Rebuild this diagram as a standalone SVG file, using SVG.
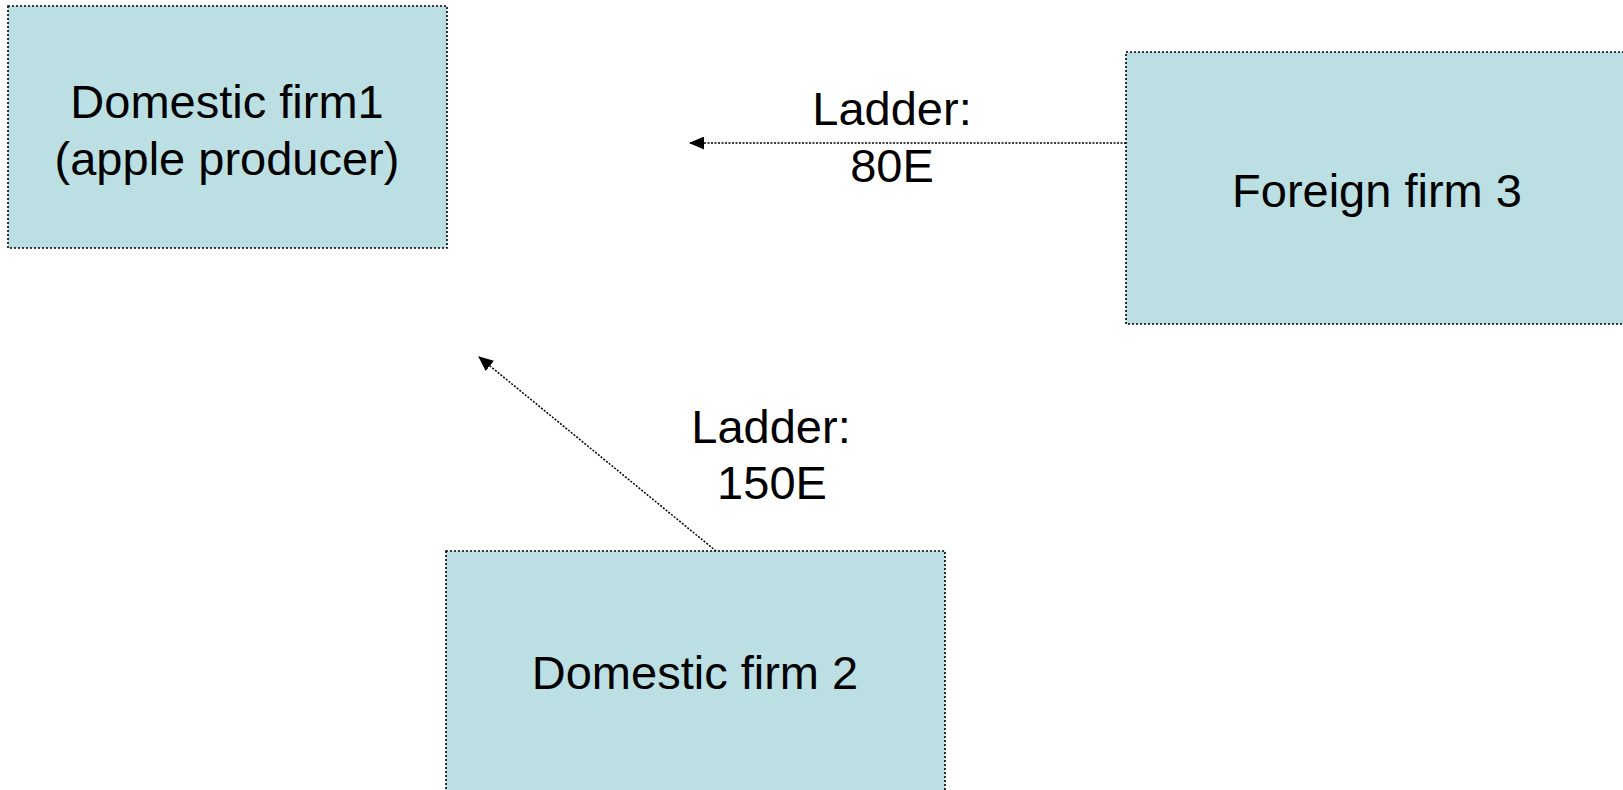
<svg xmlns="http://www.w3.org/2000/svg" width="1623" height="790" viewBox="0 0 1623 790">
  <style>
    .box { fill: #BBDFE3; stroke: #000; stroke-width: 1.6; stroke-dasharray: 2 2; }
    .lbl { font-family: "Liberation Sans", Arial, sans-serif; font-size: 47px; fill: #000; text-anchor: middle; }
    .link { fill: none; stroke: #000; stroke-width: 1.5; stroke-dasharray: 2 1.5; }
  </style>
  <defs>
    <marker id="head" viewBox="0 0 15 13" refX="14" refY="6.5" markerWidth="15" markerHeight="13" markerUnits="userSpaceOnUse" orient="auto">
      <path d="M0,0 L15,6.5 L0,13 Z" fill="#000"/>
    </marker>
  </defs>
  <rect width="1623" height="790" fill="#fff"/>

  <g id="domestic-firm-1">
    <rect class="box" x="8" y="6" width="439" height="242"/>
    <text class="lbl" x="227" y="118">Domestic firm1</text>
    <text class="lbl" x="227" y="175">(apple producer)</text>
  </g>

  <g id="foreign-firm-3">
    <rect class="box" x="1126" y="52" width="502" height="272"/>
    <text class="lbl" x="1377" y="207">Foreign firm 3</text>
  </g>

  <g id="domestic-firm-2">
    <rect class="box" x="446" y="551" width="499" height="250"/>
    <text class="lbl" x="695" y="689">Domestic firm 2</text>
  </g>

  <g id="connectors">
    <line class="link" x1="1126" y1="143" x2="690" y2="143" marker-end="url(#head)"/>
    <line class="link" x1="716" y1="551" x2="479" y2="357" marker-end="url(#head)"/>
    <text class="lbl" x="892" y="125">Ladder:</text>
    <text class="lbl" x="892" y="182">80E</text>
    <text class="lbl" x="771" y="443">Ladder:</text>
    <text class="lbl" x="772" y="499">150E</text>
  </g>
</svg>
